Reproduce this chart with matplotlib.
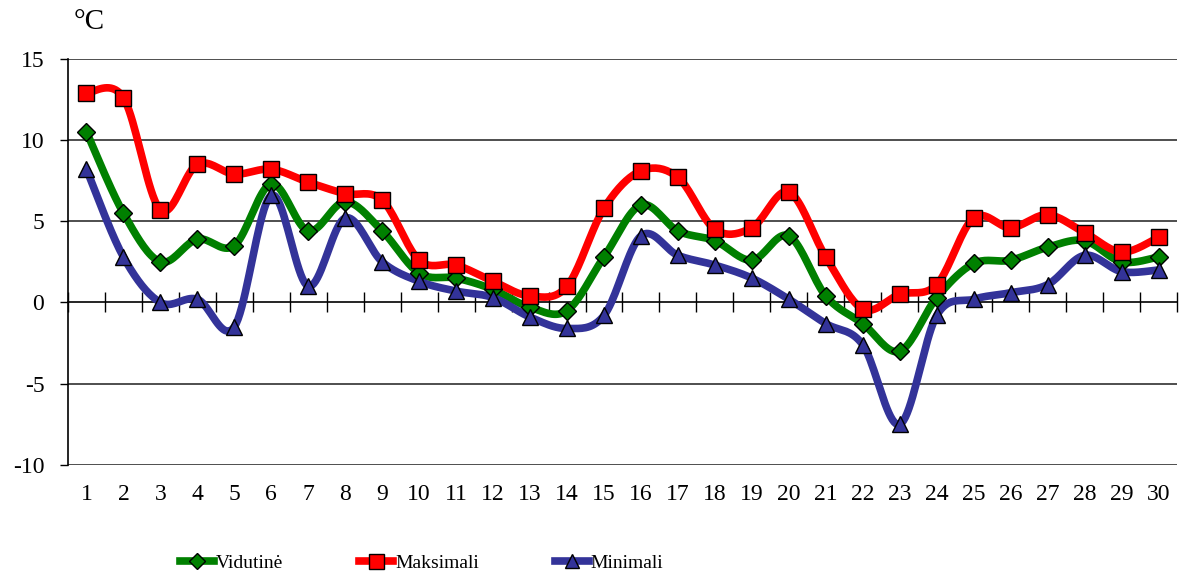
import numpy as np
import matplotlib.pyplot as plt
from matplotlib.lines import Line2D

plt.rcParams['font.family'] = ['Liberation Serif', 'DejaVu Serif']

days = list(range(1, 31))
vidutine = [10.5, 5.5, 2.5, 3.9, 3.5, 7.3, 4.4, 6.2, 4.4, 1.8,
            1.5, 0.8, -0.3, -0.5, 2.8, 6.0, 4.4, 3.8, 2.6, 4.1,
            0.4, -1.3, -3.0, 0.3, 2.4, 2.6, 3.4, 3.8, 2.5, 2.8]
maksimali = [12.9, 12.6, 5.7, 8.5, 7.9, 8.2, 7.4, 6.7, 6.3, 2.6,
             2.3, 1.3, 0.4, 1.0, 5.8, 8.1, 7.7, 4.5, 4.6, 6.8,
             2.8, -0.4, 0.5, 1.1, 5.2, 4.6, 5.4, 4.3, 3.1, 4.0]
minimali = [8.2, 2.8, 0.0, 0.2, -1.5, 6.6, 1.0, 5.2, 2.5, 1.3,
            0.7, 0.3, -0.9, -1.6, -0.8, 4.1, 2.9, 2.3, 1.5, 0.2,
            -1.3, -2.6, -7.5, -0.8, 0.2, 0.6, 1.1, 2.9, 1.9, 2.0]
series = [('Vidutinė', vidutine, '#008000', 'D', 9),
          ('Maksimali', maksimali, '#FF0000', 's', 12),
          ('Minimali', minimali, '#333399', '^', 11)]


def smooth(x, y, n=20):
    """catmull-rom curve through the points, like excel smoothed lines"""
    x = np.asarray(x, float)
    y = np.asarray(y, float)
    px = np.concatenate([[x[0]], x, [x[-1]]])
    py = np.concatenate([[y[0]], y, [y[-1]]])
    t = np.linspace(0, 1, n, endpoint=False)
    xs, ys = [], []
    for i in range(1, len(x)):
        for p, out in ((px, xs), (py, ys)):
            p0, p1, p2, p3 = p[i - 1], p[i], p[i + 1], p[i + 2]
            c1 = p1 + (p2 - p0) / 6
            c2 = p2 - (p3 - p1) / 6
            out.extend((1 - t) ** 3 * p1 + 3 * (1 - t) ** 2 * t * c1
                       + 3 * (1 - t) * t ** 2 * c2 + t ** 3 * p2)
    xs.append(x[-1])
    ys.append(y[-1])
    return np.array(xs), np.array(ys)


fig = plt.figure(figsize=(11.86, 5.83), dpi=100)
ax = fig.add_axes([0.0573, 0.2024, 0.9351, 0.6969])

for name, vals, col, mk, ms in series:
    sx, sy = smooth(days, vals)
    ax.plot(sx, sy, color=col, lw=5.5, solid_capstyle='round', zorder=3)
    ax.plot(days, vals, ls='none', marker=mk, ms=ms, mfc=col,
            mec='black', mew=1, zorder=4)

ax.set_xlim(0.5, 30.5)
ax.set_ylim(-10, 15)
ax.set_yticks([-10, -5, 0, 5, 10, 15])
ax.set_yticklabels(['-10', '-5', '0', '5', '10', '15'])
for v in [-10, -5, 5, 10, 15]:
    ax.axhline(v, color='#404040', lw=1.3, zorder=1)
ax.set_xticks(days)
ax.set_xticklabels([str(d) for d in days])
ax.tick_params(axis='x', length=0, pad=14, labelsize=17)
ax.tick_params(axis='y', length=6, width=1, direction='out', labelsize=17, pad=11)
for s in ['top', 'right', 'bottom']:
    ax.spines[s].set_visible(False)
ax.spines['left'].set_linewidth(1.2)

# x axis line at zero with category separators
sec = ax.secondary_xaxis(0.4)
sec.set_xticks(np.arange(0.5, 31, 1))
sec.set_xticklabels([])
sec.tick_params(axis='x', direction='inout', length=15, width=1)
sec.spines['bottom'].set_linewidth(1.2)

fig.text(0.062, 0.962, '°C', fontsize=21, va='center', ha='left')

handles = [Line2D([0], [0], color=c, lw=5.5, marker=m, ms=ms * 0.9, mfc=c,
                  mec='black', mew=1) for _, _, c, m, ms in series]
fig.legend(handles, [s[0] for s in series], loc='center left',
           bbox_to_anchor=(180 / 1186, 1 - 563 / 583), ncol=3, frameon=False,
           fontsize=14, handlelength=1.75, handletextpad=0.1, columnspacing=3.9,
           borderpad=0, borderaxespad=0)

fig.savefig('out.png', dpi=100)
